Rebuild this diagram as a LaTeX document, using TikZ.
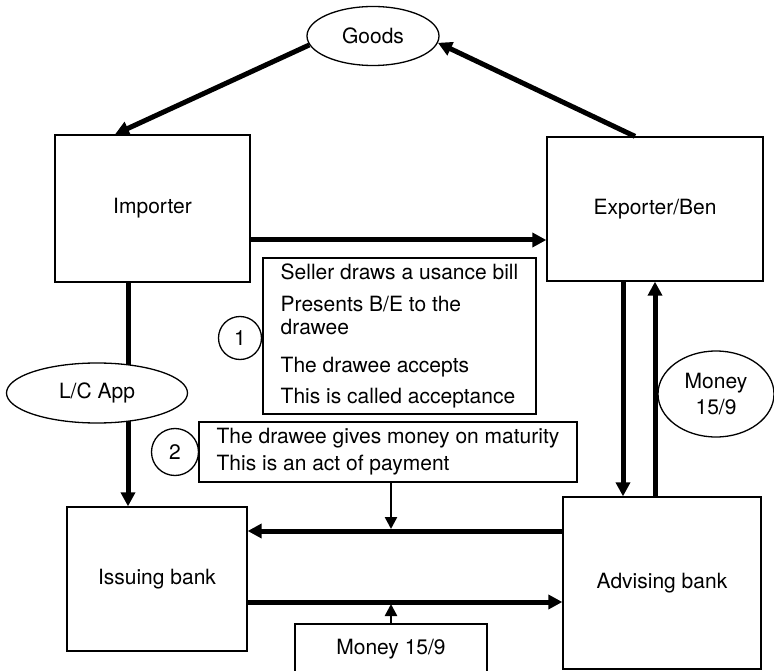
\documentclass[tikz,border=0pt]{standalone}
\usepackage{fontspec}
\setmainfont{TeX Gyre Heros}
\usetikzlibrary{arrows.meta,shapes.geometric}
\begin{document}
\begin{tikzpicture}[x=1pt,y=-1pt,
  every node/.style={font=\fontsize{21}{23}\selectfont, inner sep=0pt},
  box/.style={draw, line width=1.3pt, rectangle, fill=white},
  oval/.style={draw, line width=1.3pt, ellipse, fill=white, align=center},
  numcirc/.style={draw, line width=1.3pt, circle, minimum size=#1},
  flow/.style={line width=5pt, -{Triangle[length=14pt,width=14pt]}},
  thinflow/.style={line width=2.5pt, -{Triangle[length=12pt,width=12pt]}},
]
\useasboundingbox (0,0) rectangle (774,671);
\clip (0,0) rectangle (774,671);

% parties and banks
\node[box, minimum width=195pt, minimum height=147pt] (imp) at (152.5,208.5) {Importer};
\node[box, minimum width=216pt, minimum height=144pt] (exp) at (655,209) {Exporter/Ben};
\node[box, minimum width=180pt, minimum height=144pt] (iss) at (157,579) {Issuing bank};
\node[box, minimum width=198pt, minimum height=172pt] (adv) at (662,583) {Advising bank};

% explanatory boxes
\node[box, minimum width=273pt, minimum height=156pt, align=left] (b1) at (399.5,336)
  {Seller draws a usance bill\\[9pt]Presents B/E to the\\drawee\\[15pt]The drawee accepts\\[8pt]This is called acceptance};
\node[box, minimum width=378pt, minimum height=60pt, align=left] (b2) at (388,452)
  {The drawee gives money on maturity\\[4pt]This is an act of payment};
\node[box, minimum width=192pt, minimum height=51pt] (mb) at (391,649.5) {Money 15/9};

\node[numcirc=43pt] (n1) at (240,338) {1};
\node[numcirc=47pt] (n2) at (175,452) {2};

\node[oval, minimum width=132pt, minimum height=59pt] (goods) at (373,36) {Goods};
\node[oval, minimum width=116pt, minimum height=86pt] (mell) at (716,394) {Money\\[3pt]15/9};

% flows
\draw[flow] (goods.188) -- (imp.north -| 115,0);
\draw[flow] (exp.north -| 635,0) -- (goods.-6);
\draw[flow] (imp.east |- 0,240) -- (exp.west |- 0,240);
\draw[flow] (imp.south -| 128,0) -- (iss.north -| 128,0);
\draw[flow] (exp.south -| 623,0) -- (adv.north -| 623,0);
\draw[flow] (adv.north -| 655,0) -- (exp.south -| 655,0);
\draw[flow] (adv.west |- 0,531) -- (iss.east |- 0,531);
\draw[flow] (iss.east |- 0,602) -- (adv.west |- 0,602);

\coordinate (j1) at (391,529);
\coordinate (j2) at (391,604);
\draw[thinflow] (b2.south -| j1) -- (j1);
\draw[thinflow] (mb.north -| j2) -- (j2);

\node[oval, minimum width=181pt, minimum height=60pt] (lc) at (97,393) {L/C App};
\end{tikzpicture}
\end{document}
